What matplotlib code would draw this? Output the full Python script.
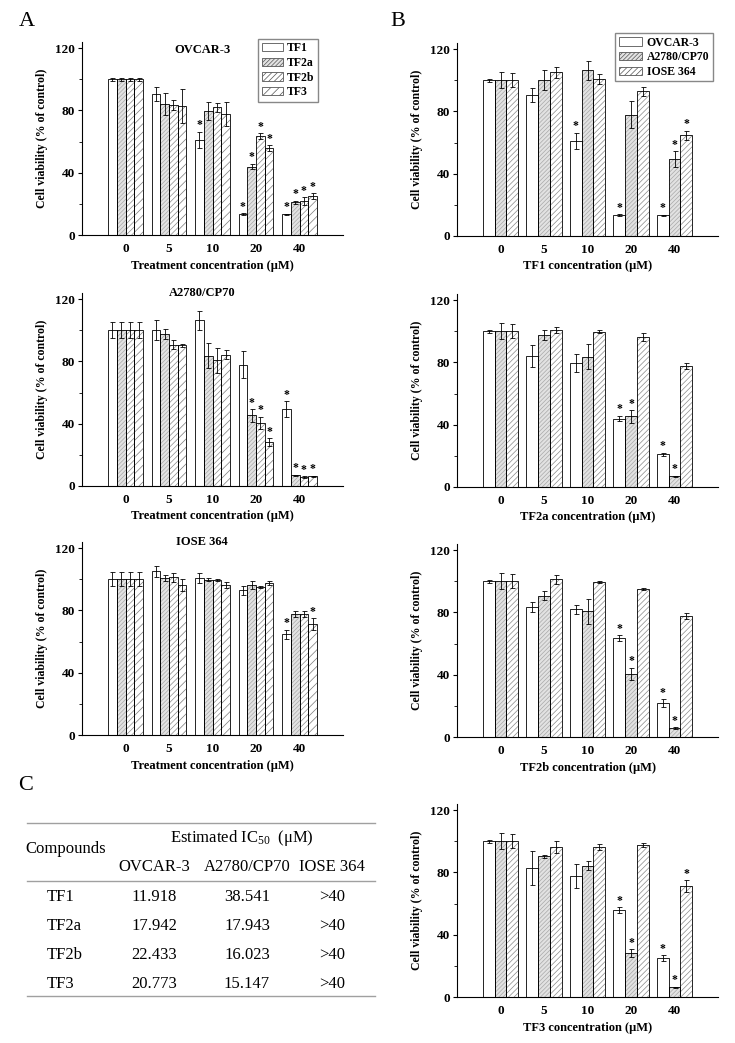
import matplotlib
matplotlib.use("Agg")
import matplotlib.pyplot as plt
from matplotlib.patches import Patch
from matplotlib.lines import Line2D
import numpy as np

plt.rcParams['font.family'] = ['Liberation Serif', 'DejaVu Serif']
plt.rcParams['mathtext.fontset'] = 'custom'
plt.rcParams['mathtext.rm'] = 'Liberation Serif'
plt.rcParams['mathtext.default'] = 'regular'
plt.rcParams['hatch.linewidth'] = 0.5

# Data
conc_labels = ['0', '5', '10', '20', '40']
compounds = ['TF1', 'TF2a', 'TF2b', 'TF3']
cell_lines = ['OVCAR-3', 'A2780/CP70', 'IOSE 364']

# mean viability, rows = compounds, cols = concentrations
ovcar_mean = [[100, 90.4, 61.0, 13.5, 13.2],
              [100, 84.2, 79.6, 43.9, 21.0],
              [100, 83.5, 82.0, 63.5, 21.9],
              [100, 83.0, 77.6, 55.7, 25.0]]
ovcar_err = [[1, 4.5, 5.4, 0.5, 0.5],
             [1, 7.0, 5.5, 1.8, 1.0],
             [1, 3.0, 3.0, 2.0, 2.5],
             [1, 11.0, 7.5, 2.0, 2.0]]
ovcar_star = [[0, 0, 1, 1, 1], [0, 0, 0, 1, 1], [0, 0, 0, 1, 1], [0, 0, 0, 1, 1]]

a2780_mean = [[100, 100.0, 106.4, 77.9, 49.6],
              [100, 97.5, 83.6, 45.3, 6.8],
              [100, 90.7, 80.6, 40.4, 5.8],
              [100, 90.3, 84.3, 28.2, 6.2]]
a2780_err = [[5, 6.5, 6.0, 8.5, 5.0],
             [5, 3.0, 8.0, 4.0, 0.5],
             [5, 3.0, 8.0, 4.0, 0.5],
             [5, 1.0, 3.0, 2.5, 0.5]]
a2780_star = [[0, 0, 0, 0, 1], [0, 0, 0, 1, 1], [0, 0, 0, 1, 1], [0, 0, 0, 1, 1]]

iose_mean = [[100, 105.0, 100.7, 92.8, 64.7],
             [100, 100.7, 99.6, 96.4, 77.5],
             [100, 101.1, 99.6, 95.0, 77.5],
             [100, 96.4, 96.4, 97.5, 71.1]]
iose_err = [[4.5, 3.7, 3.0, 3.0, 3.0],
            [4.5, 2.0, 1.0, 2.5, 2.0],
            [4.5, 3.0, 0.5, 0.5, 2.0],
            [4.5, 4.0, 2.0, 1.5, 4.0]]
iose_star = [[0, 0, 0, 0, 1], [0, 0, 0, 0, 0], [0, 0, 0, 0, 0], [0, 0, 0, 0, 1]]

ic50_rows = ['TF1', 'TF2a', 'TF2b', 'TF3']
ic50_ovcar = ['11.918', '17.942', '22.433', '20.773']
ic50_a2780 = ['38.541', '17.943', '16.023', '15.147']
ic50_iose = ['>40', '>40', '>40', '>40']

means = [ovcar_mean, a2780_mean, iose_mean]
errs = [ovcar_err, a2780_err, iose_err]
stars = [ovcar_star, a2780_star, iose_star]

# bar styles: (face, hatch, hatch colour)
styles4 = [('white', '', 'black'),
           ('#e2e2e2', '////////', '#a8a8a8'),
           ('white', '//////', '#8a8a8a'),
           ('white', '////', '#7a7a7a')]
styles3 = [styles4[0], styles4[1], styles4[2]]

W, H = 735, 1043
fig = plt.figure(figsize=(W / 100, H / 100), dpi=100)


def make_ax(left, bottom):
    h = 193.2
    ax = fig.add_axes([left / W, 1 - bottom / H, 261 / W, h / H])
    ax.set_xlim(0, 6)
    ax.set_ylim(0, 124)
    for s in ['top', 'right']:
        ax.spines[s].set_visible(False)
    for s in ['left', 'bottom']:
        ax.spines[s].set_linewidth(0.8)
    ax.set_yticks([0, 40, 80, 120])
    ax.set_yticks([20, 60, 100], minor=True)
    ax.set_xticks(np.arange(1, 6))
    ax.set_xticklabels(conc_labels)
    ax.tick_params(axis='x', length=0, pad=6)
    ax.tick_params(axis='y', which='major', length=3, width=0.8, pad=2)
    ax.tick_params(axis='y', which='minor', length=2, width=0.6)
    for lab in ax.get_xticklabels() + ax.get_yticklabels():
        lab.set_fontweight('bold')
        lab.set_fontsize(9.5)
    ax.set_ylabel('Cell viability (% of control)', fontsize=8.5, fontweight='bold', labelpad=5)
    return ax


def draw_group(ax, vals, ers, sts, sty, width):
    n = len(vals)
    x0 = np.arange(1, 6)
    for i in range(n):
        x = x0 + (i - (n - 1) / 2) * width
        fc, hatch, hc = sty[i]
        ax.bar(x, vals[i], width, color=fc, hatch=hatch, edgecolor=hc, linewidth=0, zorder=2)
        ax.bar(x, vals[i], width, fill=False, edgecolor='black', linewidth=0.6, zorder=3)
        ax.errorbar(x, vals[i], yerr=ers[i], fmt='none', ecolor='black',
                    elinewidth=0.6, capsize=1.8, capthick=0.6, zorder=4)
        for j in range(5):
            if sts[i][j]:
                ax.text(x[j], vals[i][j] + ers[i][j] + 2.2, '*', ha='center',
                        va='baseline', fontsize=8.5, fontweight='bold')


# Panel A: one axes per cell line, four compounds each
a_bottoms = [235, 486, 735]
for k, cell in enumerate(cell_lines):
    ax = make_ax(82, a_bottoms[k])
    draw_group(ax, means[k], errs[k], stars[k], styles4, 0.2)
    ax.set_xlabel('Treatment concentration (\u03bcM)', fontsize=9, fontweight='bold', labelpad=3)
    ax.text(0.46, 0.955 if k == 0 else 1.0, cell, transform=ax.transAxes, ha='center',
            va='center', fontsize=9, fontweight='bold')
    if k == 0:
        handles = [Patch(facecolor=s[0], hatch=s[1], edgecolor='#555555', linewidth=0.6)
                   for s in styles4]
        ax.legend(handles, compounds, loc='upper right', bbox_to_anchor=(0.905, 1.015),
                  borderaxespad=0, fancybox=False, edgecolor='#888888', framealpha=1,
                  prop={'weight': 'bold', 'size': 8.5}, handlelength=1.8,
                  handleheight=0.7, labelspacing=0.22, handletextpad=0.35,
                  borderpad=0.3)

# Panel B: one axes per compound, three cell lines each
b_bottoms = [236, 487, 737, 997]
for c, comp in enumerate(compounds):
    ax = make_ax(457, b_bottoms[c])
    vals = [means[k][c] for k in range(3)]
    ers = [errs[k][c] for k in range(3)]
    sts = [stars[k][c] for k in range(3)]
    draw_group(ax, vals, ers, sts, styles3, 0.27)
    ax.set_xlabel(comp + ' concentration (\u03bcM)', fontsize=9, fontweight='bold', labelpad=3)
    if c == 0:
        handles = [Patch(facecolor=s[0], hatch=s[1], edgecolor='#555555', linewidth=0.6)
                   for s in styles3]
        ax.legend(handles, cell_lines, loc='upper right', bbox_to_anchor=(0.98, 1.05),
                  borderaxespad=0, fancybox=False, edgecolor='#888888', framealpha=1,
                  prop={'weight': 'bold', 'size': 8.5}, handlelength=2.0,
                  handleheight=0.7, labelspacing=0.22, handletextpad=0.35,
                  borderpad=0.3)

# Panel letters
fig.text(27 / W, 1 - 22 / H, 'A', fontsize=16, ha='center', va='center')
fig.text(398 / W, 1 - 22 / H, 'B', fontsize=16, ha='center', va='center')
fig.text(26 / W, 1 - 786 / H, 'C', fontsize=16, ha='center', va='center')

# Panel C: IC50 table
for yl in [823, 881, 996]:
    fig.add_artist(Line2D([27 / W, 375 / W], [1 - yl / H, 1 - yl / H],
                          color='#a0a0a0', linewidth=1.0))
tfs = 12
fig.text(25 / W, 1 - 849 / H, 'Compounds', fontsize=tfs, ha='left', va='center')
fig.text(242 / W, 1 - 838 / H, 'Estimated IC$_{50}$  (\u03bcM)', fontsize=tfs,
         ha='center', va='center')
col_x = [154, 247, 332]
for cx, name in zip(col_x, cell_lines):
    fig.text(cx / W, 1 - 867 / H, name, fontsize=tfs, ha='center', va='center')
row_y = [897, 926, 955, 984]
for ry, name, v1, v2, v3 in zip(row_y, ic50_rows, ic50_ovcar, ic50_a2780, ic50_iose):
    fig.text(47 / W, 1 - ry / H, name, fontsize=tfs, ha='left', va='center')
    for cx, v in zip(col_x, [v1, v2, v3]):
        fig.text(cx / W, 1 - ry / H, v, fontsize=tfs, ha='center', va='center')

fig.savefig('out.png', dpi=100)
